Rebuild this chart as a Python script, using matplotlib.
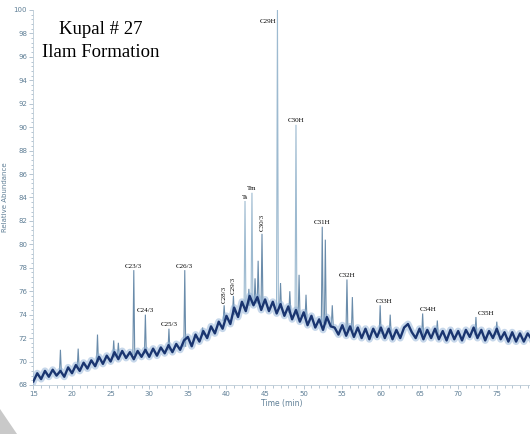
import matplotlib
matplotlib.use("Agg")
import matplotlib.pyplot as plt
from matplotlib.patches import Polygon
from matplotlib.ticker import MultipleLocator

# baseline trace (time in min, relative abundance), read every 0.5 min
time_min = [15.0, 15.5, 16.0, 16.5, 17.0, 17.5, 18.0, 18.5, 19.0, 19.5,
            20.0, 20.5, 21.0, 21.5, 22.0, 22.5, 23.0, 23.5, 24.0, 24.5,
            25.0, 25.5, 26.0, 26.5, 27.0, 27.5, 28.0, 28.5, 29.0, 29.5,
            30.0, 30.5, 31.0, 31.5, 32.0, 32.5, 33.0, 33.5, 34.0, 34.5,
            35.0, 35.5, 36.0, 36.5, 37.0, 37.5, 38.0, 38.5, 39.0, 39.5,
            40.0, 40.5, 41.0, 41.5, 42.0, 42.5, 43.0, 43.5, 44.0, 44.5,
            45.0, 45.5, 46.0, 46.5, 47.0, 47.5, 48.0, 48.5, 49.0, 49.5,
            50.0, 50.5, 51.0, 51.5, 52.0, 52.5, 53.0, 53.5, 54.0, 54.5,
            55.0, 55.5, 56.0, 56.5, 57.0, 57.5, 58.0, 58.5, 59.0, 59.5,
            60.0, 60.5, 61.0, 61.5, 62.0, 62.5, 63.0, 63.5, 64.0, 64.5,
            65.0, 65.5, 66.0, 66.5, 67.0, 67.5, 68.0, 68.5, 69.0, 69.5,
            70.0, 70.5, 71.0, 71.5, 72.0, 72.5, 73.0, 73.5, 74.0, 74.5,
            75.0, 75.5, 76.0, 76.5, 77.0, 77.5, 78.0, 78.5, 79.0, 79.5]
abundance = [68.3, 69.0, 68.5, 69.2, 68.7, 69.3, 68.8, 69.2, 68.7, 69.5,
             69.0, 69.7, 69.2, 69.9, 69.4, 70.1, 69.6, 70.4, 69.8, 70.5,
             70.0, 70.8, 70.2, 70.9, 70.3, 70.8, 70.2, 70.9, 70.4, 71.0,
             70.4, 71.1, 70.5, 71.2, 70.7, 71.4, 70.8, 71.5, 71.0, 71.8,
             72.1, 71.3, 72.3, 71.7, 72.6, 72.0, 73.0, 72.4, 73.4, 72.8,
             73.9, 73.2, 74.6, 73.8, 75.1, 74.3, 75.6, 74.8, 75.5, 74.4,
             75.3, 74.3, 75.1, 74.1, 74.9, 73.9, 74.7, 73.6, 74.4, 73.4,
             74.2, 73.1, 73.9, 72.9, 73.6, 72.7, 73.8, 73.0, 72.9, 72.3,
             73.1, 72.2, 73.0, 72.1, 72.9, 72.0, 72.8, 71.9, 72.8, 72.1,
             72.9, 72.0, 72.8, 71.9, 72.7, 72.0, 72.9, 73.2, 72.5, 72.0,
             72.8, 71.9, 72.7, 72.0, 72.8, 71.9, 72.6, 71.8, 72.7, 71.9,
             72.6, 71.8, 72.7, 72.1, 72.9, 72.0, 72.7, 71.8, 72.6, 72.0,
             72.8, 71.9, 72.5, 71.7, 72.5, 71.7, 72.4, 71.7, 72.4, 71.9]

# peaks: retention time, foot and apex
peak_time = [18.5, 20.8, 23.3, 25.4, 26.0, 28.0, 29.5, 32.55, 34.6, 36.9,
             39.7, 40.9, 42.4, 42.9, 43.3, 43.7, 44.1, 44.6, 46.6, 47.0,
             48.2, 49.0, 49.4, 50.3, 52.4, 52.8, 53.7, 55.6, 56.3, 59.9,
             61.2, 65.4, 67.3, 72.3, 75.0]
peak_base = [69.1, 69.5, 70.0, 70.4, 70.5, 70.6, 70.7, 71.0, 71.3, 72.3,
             73.5, 74.0, 74.6, 74.8, 74.9, 75.0, 75.0, 74.9, 74.6, 74.5,
             74.2, 74.0, 73.9, 73.7, 73.3, 73.2, 73.1, 72.7, 72.6, 72.4,
             72.4, 72.3, 72.3, 72.3, 72.3]
peak_top = [71.0, 71.1, 72.3, 71.8, 71.6, 77.8, 74.0, 72.8, 77.8, 72.9,
            74.8, 75.6, 83.7, 76.2, 84.4, 77.1, 78.6, 80.9, 100.0, 76.7,
            76.0, 90.2, 77.4, 75.7, 81.5, 80.4, 74.8, 77.0, 75.5, 74.8,
            74.0, 74.1, 73.5, 73.8, 73.4]

# labelled compounds and the peak they belong to
label_text = ["C23/3", "C24/3", "C25/3", "C26/3", "C28/3", "C29/3", "Ts", "Tm",
              "C30/3", "C29H", "C30H", "C31H", "C32H", "C33H", "C34H", "C35H"]
label_time = [28.0, 29.5, 32.55, 34.6, 39.7, 40.9, 42.4, 43.3,
              44.6, 46.6, 49.0, 52.4, 55.6, 59.9, 65.4, 72.3]

y_ticks = list(range(68, 101, 2))
x_ticks = list(range(15, 80, 5))

axis_col = "#5f7f96"
trace_col = "#1a3570"
halo_col = "#8fb0d6"

fig = plt.figure(figsize=(5.3, 4.34), dpi=100)
ax = fig.add_axes([0.063, 0.113, 0.937, 0.864])

for t, b, top in zip(peak_time, peak_base, peak_top):
    # tall thin spikes render pale, short ones darker
    col = "#9dbad0" if top - b > 9 else "#6a8cab"
    ax.plot([t - 0.12, t, t + 0.12], [b, top, b], color=col, lw=0.8,
            solid_joinstyle="miter", zorder=2)

ax.plot(time_min, abundance, color=halo_col, lw=5, alpha=0.5, zorder=3)
ax.plot(time_min, abundance, color=trace_col, lw=1.7, zorder=4)

# label offsets in points (dx, dy) and rotation
label_style = {
    "C28/3": (0, 1.5, 90), "C29/3": (0, 1.5, 90), "C30/3": (0, 2, 90),
    "C33H": (3, 1, 0), "C34H": (4, 1, 0), "C35H": (7, 1, 0),
}
peak_lookup = dict(zip(peak_time, peak_top))
for name, t in zip(label_text, label_time):
    top = peak_lookup[t]
    if name == "C29H":
        ax.annotate(name, (t, top), xytext=(-1, -8), textcoords="offset points",
                    ha="right", va="center", fontsize=5,
                    family="Liberation Serif", zorder=5)
        continue
    dx, dy, rot = label_style.get(name, (0, 1, 0))
    ax.annotate(name, (t, top), xytext=(dx, dy), textcoords="offset points",
                ha="center", va="bottom", rotation=rot, fontsize=5,
                family="Liberation Serif", zorder=5)

ax.set_xlim(15, 79.3)
ax.set_ylim(68, 100)
ax.set_xticks(x_ticks)
ax.set_yticks(y_ticks)
ax.xaxis.set_minor_locator(MultipleLocator(1))
ax.yaxis.set_minor_locator(MultipleLocator(0.4))
ax.tick_params(which="both", colors="#a9bccb", labelcolor=axis_col,
               labelsize=5, width=0.6, pad=1.5)
ax.tick_params(which="major", length=3)
ax.tick_params(which="minor", length=1.8)
for side in ["top", "right"]:
    ax.spines[side].set_visible(False)
for side in ["left", "bottom"]:
    ax.spines[side].set_color("#bccbd6")
    ax.spines[side].set_linewidth(0.6)

ax.set_xlabel("Time (min)", fontsize=5.5, color=axis_col, labelpad=1)
ax.set_ylabel("Relative Abundance", fontsize=5, color=axis_col, labelpad=4)

fig.text(0.19, 0.932, "Kupal # 27", ha="center", va="center",
         fontsize=13.5, family="Liberation Serif")
fig.text(0.19, 0.880, "Ilam Formation", ha="center", va="center",
         fontsize=13.5, family="Liberation Serif")

fig.patches.append(Polygon([(0, 0.058), (0, 0), (0.032, 0)], closed=True,
                           transform=fig.transFigure, facecolor="#c9c9c9",
                           edgecolor="none"))

fig.savefig("out.png", dpi=100)
